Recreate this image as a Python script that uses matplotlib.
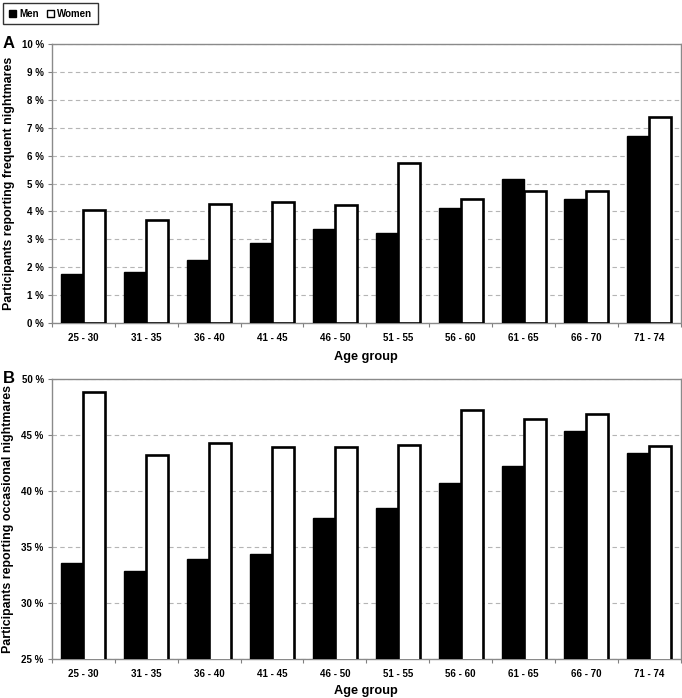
import numpy as np
import matplotlib
matplotlib.use("Agg")
import matplotlib.pyplot as plt
from matplotlib.patches import Patch
from matplotlib import font_manager

plt.rcParams['font.family'] = ['Liberation Sans', 'DejaVu Sans']

# narrow face for the axis titles if available
names = {f.name for f in font_manager.fontManager.ttflist}
has_narrow = 'Liberation Sans Narrow' in names
label_family = ['Liberation Sans Narrow'] if has_narrow else ['Liberation Sans']
xlabel_size = 11 if has_narrow else 9.2
ylabel_size = 10.5 if has_narrow else 8.9

# Data
age_groups = ["25 - 30", "31 - 35", "36 - 40", "41 - 45", "46 - 50",
              "51 - 55", "56 - 60", "61 - 65", "66 - 70", "71 - 74"]
freq_men = [1.75, 1.83, 2.28, 2.86, 3.37, 3.22, 4.14, 5.18, 4.45, 6.72]
freq_women = [4.05, 3.70, 4.28, 4.33, 4.22, 5.73, 4.45, 4.74, 4.74, 7.39]
occ_men = [33.57, 32.83, 33.96, 34.40, 37.59, 38.48, 40.71, 42.26, 45.39, 43.39]
occ_women = [48.81, 43.21, 44.26, 43.96, 43.96, 44.11, 47.23, 46.46, 46.85, 44.02]

freq_ticks = list(range(0, 11))
occ_ticks = [25, 30, 35, 40, 45, 50]


def draw_panel(ax, men, women, yticks, ylabel, xpad):
    x = np.arange(len(age_groups))
    w = 0.35
    ax.bar(x - w / 2, men, w, color='black', edgecolor='black', linewidth=1.0, zorder=3)
    ax.bar(x + w / 2, women, w, color='white', edgecolor='black', linewidth=1.9, zorder=3)

    ax.set_xlim(-0.5, len(age_groups) - 0.5)
    ax.set_ylim(yticks[0], yticks[-1])
    ax.set_yticks(yticks)
    ax.set_yticklabels([f"{t} %" for t in yticks], fontsize=7, fontweight='bold')
    ax.yaxis.grid(True, linestyle=(0, (4, 3)), color='#b5b5b5', linewidth=0.8, zorder=0)

    # tick marks between groups, labels at centres
    ax.set_xticks(np.arange(len(age_groups) + 1) - 0.5)
    ax.set_xticklabels([])
    ax.set_xticks(x, minor=True)
    ax.set_xticklabels(age_groups, minor=True, fontsize=7, fontweight='bold')
    ax.tick_params(axis='x', which='minor', length=0, pad=7)
    ax.tick_params(axis='x', which='major', length=3, color='#808080', direction='out')
    ax.tick_params(axis='y', length=3, color='#808080', direction='out', pad=3)

    for s in ax.spines.values():
        s.set_color('#8a8a8a')
        s.set_linewidth(1.0)

    ax.set_xlabel("Age group", family=label_family, fontsize=xlabel_size,
                  fontweight='bold', labelpad=xpad)
    ax.set_ylabel(ylabel, family=label_family, fontsize=ylabel_size,
                  fontweight='bold', labelpad=5)


fig = plt.figure(figsize=(6.82, 6.98), dpi=100)
ax_a = fig.add_axes([0.0762, 0.537, 0.922, 0.400])
ax_b = fig.add_axes([0.0762, 0.0559, 0.922, 0.401])

draw_panel(ax_a, freq_men, freq_women, freq_ticks,
           "Participants reporting frequent nightmares", 6)
draw_panel(ax_b, occ_men, occ_women, occ_ticks,
           "Participants reporting occasional nightmares", 4.5)

fig.text(0.004, 0.938, "A", fontsize=12, fontweight='bold', va='center', ha='left')
fig.text(0.004, 0.458, "B", fontsize=12, fontweight='bold', va='center', ha='left')

handles = [Patch(facecolor='black', edgecolor='black', label='Men'),
           Patch(facecolor='white', edgecolor='black', linewidth=1.0, label='Women')]
fig.legend(handles=handles, loc='upper left', bbox_to_anchor=(0.004, 0.996), ncol=2,
           prop={'size': 7, 'weight': 'bold'}, frameon=True, fancybox=False,
           edgecolor='black', handlelength=0.8, handleheight=0.8, handletextpad=0.3,
           columnspacing=0.8, borderpad=0.6, borderaxespad=0)

fig.savefig("out.png", dpi=100)
